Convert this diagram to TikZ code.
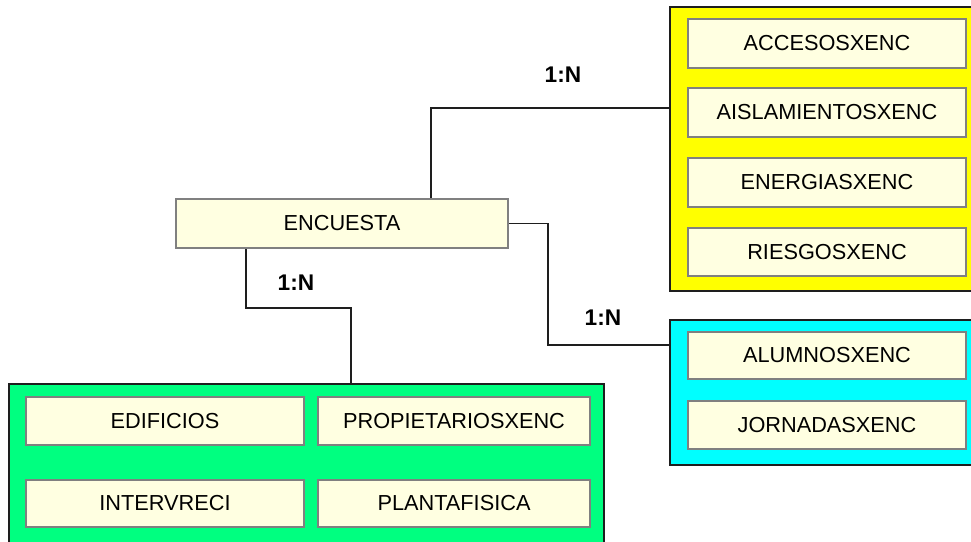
\documentclass[tikz,border=0pt]{standalone}
\usepackage{fontspec}
\setmainfont{Liberation Sans}
\usetikzlibrary{fit}
\definecolor{cream}{RGB}{255,255,225}
\definecolor{ygold}{RGB}{255,255,0}
\definecolor{cyanc}{RGB}{0,255,255}
\definecolor{greenc}{RGB}{0,255,128}
\definecolor{edgegray}{RGB}{128,128,128}
\definecolor{linec}{RGB}{30,30,30}
\begin{document}
\begin{tikzpicture}[x=0.75pt,y=-0.75pt,
  tbl/.style={draw=edgegray, fill=cream, line width=1.5pt, inner sep=0pt},
  tbltext/.style={font=\fontsize{16.3}{19}\selectfont, inner sep=0pt},
  grp/.style={draw=linec, line width=1.3pt, inner sep=0pt},
  link/.style={draw=linec, line width=1.2pt},
  card/.style={font=\bfseries\fontsize{17}{20}\selectfont}]
\clip (0,0) rectangle (971,542);
\fill[white] (0,0) rectangle (971,542);

% groups
\node[grp, fill=ygold, fit={(670,7) (1000,291)}] (yel) {};
\node[grp, fill=cyanc, fit={(670,320) (1000,465)}] (cya) {};
\node[grp, fill=greenc, fit={(9,384) (604,580)}] (grn) {};

% main table
\node[tbl, fit={(176,199) (508,248)}, label={[tbltext]center:ENCUESTA}] (enc) {};

% yellow group tables
\node[tbl, fit={(688,19) (966,68)}, label={[tbltext]center:ACCESOSXENC}] (acc) {};
\node[tbl, fit={(688,88) (966,137)}, label={[tbltext]center:AISLAMIENTOSXENC}] (ais) {};
\node[tbl, fit={(688,158) (966,207)}, label={[tbltext]center:ENERGIASXENC}] (ene) {};
\node[tbl, fit={(688,228) (966,276)}, label={[tbltext]center:RIESGOSXENC}] (rie) {};

% cyan group tables
\node[tbl, fit={(688,332) (966,379)}, label={[tbltext]center:ALUMNOSXENC}] (alu) {};
\node[tbl, fit={(688,401) (966,449)}, label={[tbltext]center:JORNADASXENC}] (jor) {};

% green group tables
\node[tbl, fit={(26,397) (304,445)}, label={[tbltext]center:EDIFICIOS}] (edi) {};
\node[tbl, fit={(318,397) (590,445)}, label={[tbltext]center:PROPIETARIOSXENC}] (pro) {};
\node[tbl, fit={(26,480) (304,527)}, label={[tbltext]center:INTERVRECI}] (int) {};
\node[tbl, fit={(318,480) (590,527)}, label={[tbltext]center:PLANTAFISICA}] (pla) {};

% connectors
\coordinate (k1) at (431,108);
\coordinate (k2) at (548,345);
\coordinate (k3) at (246,308);
\coordinate (k4) at (351,308);
\draw[link] (enc.north -| k1) |- (yel.west |- k1);
\draw[link] (enc.east) -| (k2) -- (k2 -| cya.west);
\draw[link] (enc.south -| k3) -- (k3) -- (k4) -- (k4 |- grn.north);

% cardinalities
\node[card] (c1) at (563,75) {1:N};
\node[card] (c2) at (296,283) {1:N};
\node[card] (c3) at (603,318) {1:N};
\end{tikzpicture}
\end{document}
